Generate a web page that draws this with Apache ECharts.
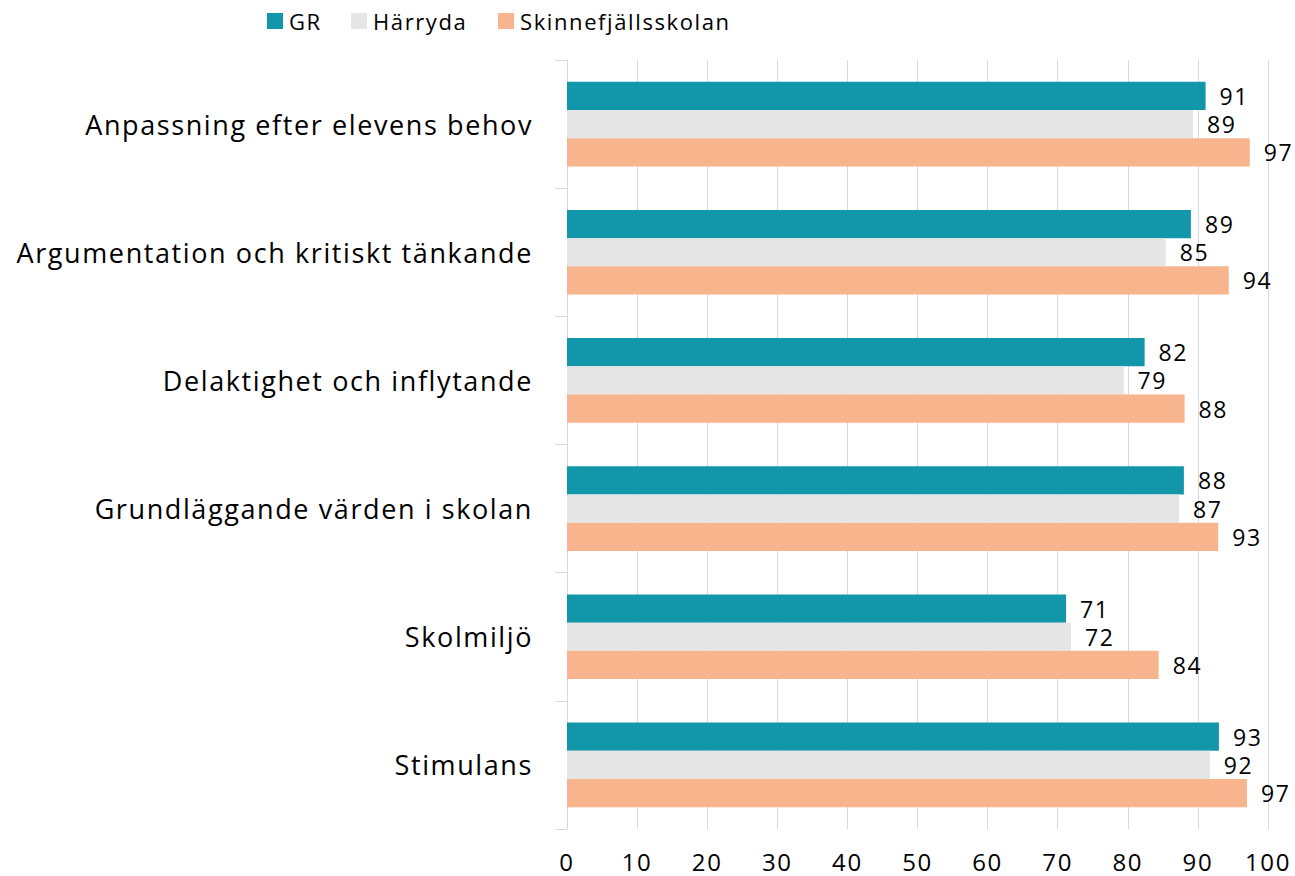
<!DOCTYPE html>
<html>
<head>
<meta charset="utf-8">
<script src="https://cdn.jsdelivr.net/npm/echarts@6/dist/echarts.min.js"></script>
<style>
html,body{margin:0;padding:0;background:#fff;}
#chart{width:1295px;height:876px;}
#chart text{letter-spacing:1.6px;}
</style>
</head>
<body>
<div id="chart"></div>
<script>
const categories = ["Anpassning efter elevens behov","Argumentation och kritiskt tänkande","Delaktighet och inflytande","Grundläggande värden i skolan","Skolmiljö","Stimulans"];
const seriesNames = ["GR","Härryda","Skinnefjällsskolan"];
const grValues = [91.1, 89.0, 82.4, 88.0, 71.2, 93.0];
const harrydaValues = [89.3, 85.4, 79.4, 87.3, 71.9, 91.7];
const skinnValues = [97.4, 94.4, 88.1, 92.9, 84.4, 97.0];
const xTicks = [0, 100, 10];
const colors = ["#1197a9", "#e5e5e5", "#f8b48c"];
const font = "'Open Sans', 'Noto Sans', sans-serif";
const chart = echarts.init(document.getElementById('chart'), null, { renderer: 'svg' });
const mk = (name, data, color) => ({
  name, type: 'bar', data, barGap: '0%', barCategoryGap: '34%',
  itemStyle: { color },
  label: { show: true, position: 'right', distance: 14, color: '#000', fontSize: 23, lineHeight: 20, fontFamily: font,
    formatter: p => Math.round(p.value) }
});
const legendLefts = [262, 346, 493];
const legends = seriesNames.map((n, i) => ({
  left: legendLefts[i], top: 5, itemWidth: 16, itemHeight: 16,
  textStyle: { fontSize: 22, color: '#000', fontFamily: font, padding: [0, 0, 0, 1] },
  icon: 'rect', data: [n]
}));
chart.setOption({
  animation: false,
  textStyle: { fontFamily: font },
  legend: legends,
  grid: { left: 567, right: 27, top: 60, bottom: 47, containLabel: false },
  xAxis: {
    type: 'value', min: xTicks[0], max: xTicks[1], interval: xTicks[2],
    axisLine: { show: false }, axisTick: { show: false },
    splitLine: { show: true, lineStyle: { color: '#d9d9d9', width: 1 } },
    axisLabel: { fontSize: 24, color: '#000', margin: 20, fontFamily: font }
  },
  yAxis: {
    type: 'category', data: categories, inverse: true,
    axisLine: { show: true, lineStyle: { color: '#d9d9d9' } },
    axisTick: { show: true, length: 12, lineStyle: { color: '#d9d9d9' } },
    axisLabel: { fontSize: 27, color: '#000', margin: 34, fontFamily: font }
  },
  series: [
    mk(seriesNames[0], grValues, colors[0]),
    mk(seriesNames[1], harrydaValues, colors[1]),
    mk(seriesNames[2], skinnValues, colors[2])
  ]
});
</script>
</body>
</html>
